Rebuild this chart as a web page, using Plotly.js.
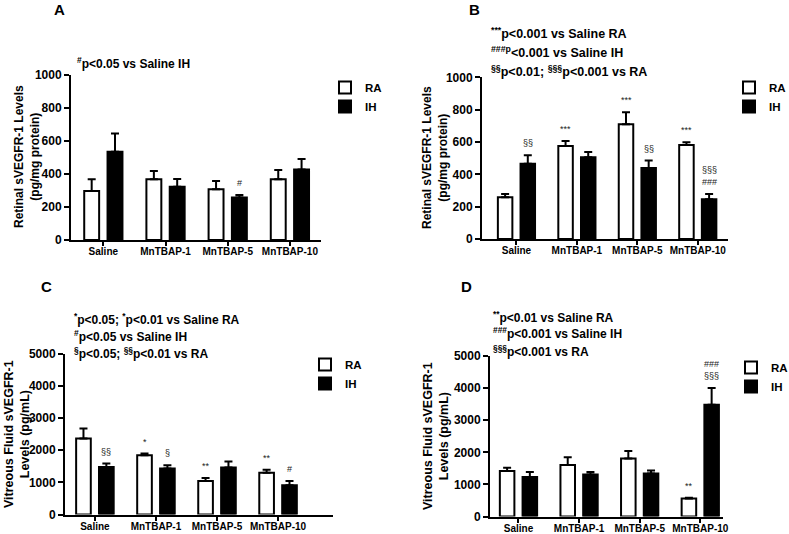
<!DOCTYPE html>
<html>
<head>
<meta charset="utf-8">
<script src="https://cdn.plot.ly/plotly-3.0.1.min.js"></script>
<style>html,body{margin:0;padding:0;background:#fff}#chart{width:789px;height:534px}</style>
</head>
<body>
<div id="chart"></div>
<script>
// ---------- data ----------
const categories = ['Saline', 'MnTBAP-1', 'MnTBAP-5', 'MnTBAP-10'];

// Panel A: Retinal sVEGFR-1 (pg/mg protein)
const raA = [297, 368, 307, 368];
const raAErr = [71, 50, 51, 56];
const ihA = [535, 323, 257, 428];
const ihAErr = [111, 47, 16, 63];
const raAMarks = ['', '', '', ''];
const ihAMarks = ['', '', '#', ''];

// Panel B: Retinal sVEGFR-1 (pg/mg protein)
const raB = [258, 575, 709, 581];
const raBErr = [20, 31, 75, 17];
const ihB = [466, 505, 439, 246];
const ihBErr = [52, 33, 46, 33];
const raBMarks = ['', '***', '***', '***'];
const ihBMarks = ['§§', '', '§§', '§§§<br>###'];

// Panel C: Vitreous fluid sVEGFR-1 (pg/mL)
const raC = [2358, 1841, 1044, 1293];
const raCErr = [310, 51, 93, 93];
const ihC = [1479, 1427, 1458, 910];
const ihCErr = [103, 103, 186, 134];
const raCMarks = ['', '*', '**', '**'];
const ihCMarks = ['§§', '§', '', '#'];

// Panel D: Vitreous fluid sVEGFR-1 (pg/mL)
const raD = [1421, 1608, 1805, 560];
const raDErr = [94, 238, 239, 21];
const ihD = [1234, 1307, 1338, 3485];
const ihDErr = [156, 83, 94, 515];
const raDMarks = ['', '', '', '**'];
const ihDMarks = ['', '', '', '###<br>§§§'];

const seriesNames = ['RA', 'IH'];
const retinalTitle = 'Retinal sVEGFR-1 Levels<br>(pg/mg protein)';
const vitreousTitle = 'Vitreous Fluid sVEGFR-1<br>Levels (pg/mL)';

// ---------- styling ----------
const FONT = 'Arial, "Liberation Sans", sans-serif';
const BARGAP = 0.25;
const GROUPGAP = 0.36;
const OFFSET = (1 - BARGAP) / 4;

function barTrace(name, vals, errs, fill, sub, legendId, show) {
  return {
    type: 'bar', name: name, x: categories, y: vals,
    xaxis: 'x' + sub, yaxis: 'y' + sub,
    legend: legendId, showlegend: show,
    marker: {color: fill, line: {color: '#000', width: 2}},
    error_y: {type: 'data', symmetric: false, array: errs,
              arrayminus: errs.map(() => 0), color: '#000', thickness: 2, width: 4},
    hoverinfo: 'x+y+name'
  };
}

const panels = [
  {sub: '', leg: 'legend', ra: raA, raE: raAErr, ih: ihA, ihE: ihAErr, raM: raAMarks, ihM: ihAMarks},
  {sub: '2', leg: 'legend2', ra: raB, raE: raBErr, ih: ihB, ihE: ihBErr, raM: raBMarks, ihM: ihBMarks},
  {sub: '3', leg: 'legend3', ra: raC, raE: raCErr, ih: ihC, ihE: ihCErr, raM: raCMarks, ihM: ihCMarks},
  {sub: '4', leg: 'legend4', ra: raD, raE: raDErr, ih: ihD, ihE: ihDErr, raM: raDMarks, ihM: ihDMarks}
];

const data = [];
const annotations = [];
panels.forEach(p => {
  data.push(barTrace(seriesNames[0], p.ra, p.raE, '#fff', p.sub, p.leg, true));
  data.push(barTrace(seriesNames[1], p.ih, p.ihE, '#000', p.sub, p.leg, true));
  const addMarks = (marks, vals, errs, dx) => {
    marks.forEach((m, i) => {
      if (!m) return;
      annotations.push({
        xref: 'x' + p.sub, yref: 'y' + p.sub,
        x: i + dx, y: vals[i] + errs[i],
        text: m, showarrow: false, yanchor: 'bottom', yshift: 5,
        font: {family: FONT, size: 9, color: '#222'}
      });
    });
  };
  addMarks(p.raM, p.ra, p.raE, -OFFSET);
  addMarks(p.ihM, p.ih, p.ihE, OFFSET);
});

// text blocks
function px(x) { return x / 789; }
function py(y) { return 1 - y / 534; }
function note(text, x, y, size) {
  annotations.push({xref: 'paper', yref: 'paper', x: px(x), y: py(y),
    xanchor: 'left', yanchor: 'middle', showarrow: false, text: text,
    font: {family: FONT, size: size || 12, weight: 700, color: '#000'}});
}
function yTitle(text, x, y, size) {
  annotations.push({xref: 'paper', yref: 'paper', x: px(x), y: py(y),
    xanchor: 'center', yanchor: 'middle', showarrow: false, text: text, textangle: -90,
    font: {family: FONT, size: size, weight: 700, color: '#000'}});
}
note('A', 52, 9, 15);
note('B', 467, 9, 15);
note('C', 39, 286, 15);
note('D', 459, 286, 15);

note('<sup>#</sup>p&lt;0.05 vs Saline IH', 75, 63);

note('<sup>***</sup>p&lt;0.001 vs Saline RA', 489, 33, 12.5);
note('<sup>###p</sup>&lt;0.001 vs Saline IH', 489, 52, 12.5);
note('<sup>§§</sup>p&lt;0.01; <sup>§§§</sup>p&lt;0.001 vs RA', 489, 71, 12.5);

note('<sup>*</sup>p&lt;0.05; <sup>*</sup>p&lt;0.01 vs Saline RA', 72, 319);
note('<sup>#</sup>p&lt;0.05 vs Saline IH', 72, 336);
note('<sup>§</sup>p&lt;0.05; <sup>§§</sup>p&lt;0.01 vs RA', 72, 353);

note('<sup>**</sup>p&lt;0.01 vs Saline RA', 491, 317);
note('<sup>###</sup>p&lt;0.001 vs Saline IH', 491, 333);
note('<sup>§§§</sup>p&lt;0.001 vs RA', 491, 351);

yTitle(retinalTitle, 27, 157, 12);
yTitle(retinalTitle, 435, 158, 12);
yTitle(vitreousTitle, 17, 434, 12.5);
yTitle(vitreousTitle, 436, 436, 12.5);

function xAxis(dom, range, anchor) {
  return {domain: dom, range: range, anchor: anchor, type: 'category',
    showline: true, linewidth: 2, linecolor: '#000', ticks: 'outside', ticklen: 4,
    tickwidth: 2, tickcolor: '#000', showgrid: false, zeroline: false,
    ticklabelstandoff: -3,
    tickfont: {family: FONT, size: 10, weight: 700, color: '#000'}};
}
function yAxis(dom, range, dtick, anchor) {
  return {domain: dom, range: range, dtick: dtick, anchor: anchor,
    showline: true, linewidth: 2, linecolor: '#000', ticks: 'outside', ticklen: 5,
    tickwidth: 2, tickcolor: '#000', showgrid: false, zeroline: false,
    tickfont: {family: FONT, size: 12, weight: 700, color: '#000'}};
}
function legendAt(x, y) {
  return {x: px(x), y: py(y), xanchor: 'left', yanchor: 'top', bgcolor: 'rgba(0,0,0,0)',
    borderwidth: 0, tracegroupgap: 0, traceorder: 'normal', itemclick: false,
    font: {family: FONT, size: 11.5, weight: 700, color: '#000'}};
}

const layout = {
  width: 789, height: 534,
  margin: {l: 0, r: 0, t: 0, b: 0, autoexpand: false},
  paper_bgcolor: '#fff', plot_bgcolor: '#fff',
  barmode: 'group', bargap: BARGAP, bargroupgap: GROUPGAP,
  showlegend: true,
  xaxis: xAxis([px(71), px(321)], [-0.52, 3.5], 'y'),
  yaxis: yAxis([py(240), py(75)], [0, 1000], 200, 'x'),
  xaxis2: xAxis([px(482), px(728)], [-0.57, 3.5], 'y2'),
  yaxis2: yAxis([py(239), py(77.3)], [0, 1000], 200, 'x2'),
  xaxis3: xAxis([px(65), px(333)], [-0.49, 3.9], 'y3'),
  yaxis3: yAxis([py(514.5), py(353.5)], [0, 5000], 1000, 'x3'),
  xaxis4: xAxis([px(490), px(723)], [-0.47, 3.375], 'y4'),
  yaxis4: yAxis([py(516.5), py(356)], [0, 5000], 1000, 'x4'),
  legend: legendAt(325, 73),
  legend2: legendAt(729, 73),
  legend3: legendAt(305, 350),
  legend4: legendAt(731, 353),
  annotations: annotations
};

Plotly.newPlot('chart', data, layout, {displayModeBar: false, staticPlot: true});
</script>
</body>
</html>
